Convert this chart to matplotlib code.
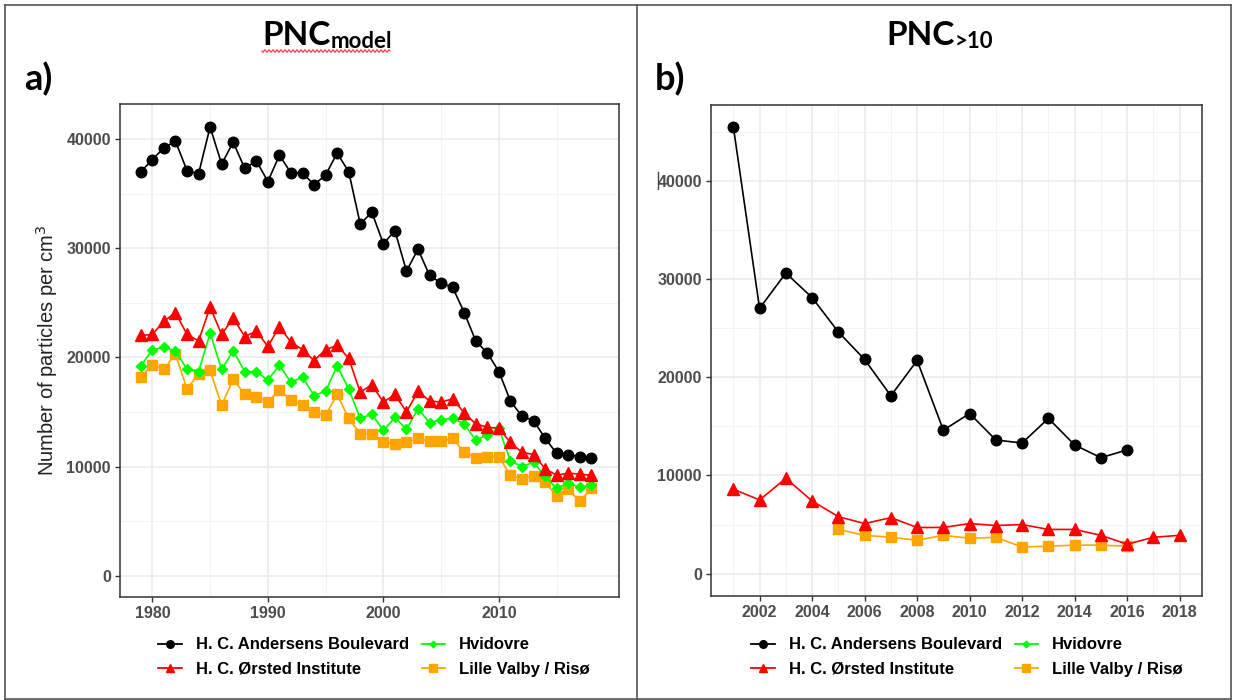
import numpy as np
import matplotlib
matplotlib.use("Agg")
import matplotlib.pyplot as plt
from matplotlib.lines import Line2D
from matplotlib.font_manager import FontProperties

# ---------------- data ----------------
years_a = list(range(1979, 2019))
hcab_a = [37000, 38100, 39200, 39800, 37100, 36800, 41100, 37700, 39700, 37300,
          38000, 36100, 38500, 36900, 36900, 35800, 36700, 38700, 37000, 32200,
          33300, 30400, 31600, 27900, 29900, 27500, 26800, 26400, 24100, 21500,
          20400, 18700, 16000, 14600, 14200, 12600, 11200, 11100, 10900, 10800]
hco_a = [22000, 22100, 23300, 24100, 22100, 21500, 24600, 22100, 23600, 21900,
         22400, 21000, 22800, 21400, 20700, 19700, 20700, 21100, 19900, 16800,
         17500, 15900, 16600, 15000, 16900, 16000, 15900, 16200, 14900, 13900,
         13600, 13500, 12200, 11300, 11100, 9800, 9200, 9400, 9300, 9200]
hvid_a = [19200, 20700, 20900, 20600, 18900, 18700, 22200, 18900, 20600, 18700,
          18700, 17900, 19300, 17700, 18200, 16500, 16900, 19200, 17100, 14400,
          14800, 13300, 14500, 13400, 15300, 14000, 14300, 14400, 13900, 12400,
          12900, 13500, 10500, 10000, 10400, 9100, 8000, 8500, 8100, 8300]
lvr_a = [18200, 19300, 18900, 20300, 17100, 18500, 18800, 15600, 18000, 16600,
         16400, 15900, 17000, 16100, 15600, 15000, 14700, 16600, 14400, 13000,
         13000, 12200, 12100, 12200, 12600, 12300, 12300, 12600, 11300, 10800,
         10900, 10900, 9200, 8900, 9100, 8600, 7300, 7900, 6800, 8000]

years_b_hcab = list(range(2001, 2017))
hcab_b = [45500, 27000, 30600, 28100, 24600, 21800, 18100, 21700, 14600, 16300,
          13600, 13300, 15800, 13100, 11800, 12600]
years_b_hco = list(range(2001, 2019))
hco_b = [8600, 7500, 9700, 7400, 5800, 5100, 5700, 4700, 4700, 5100, 4900, 5000,
         4500, 4500, 3900, 3000, 3700, 3900]
years_b_lvr = list(range(2005, 2017))
lvr_b = [4500, 3900, 3700, 3400, 3900, 3600, 3700, 2700, 2800, 2900, 2900, 2800]

labels = ["H. C. Andersens Boulevard", "H. C. Ørsted Institute",
          "Hvidovre", "Lille Valby / Risø"]
colors = ["black", "#FF0000", "#00FF00", "#FFA500"]
markers = ["o", "^", "D", "s"]
msizes = [7.6, 8.8, 4.6, 7.2]

xticks_a = [1980, 1990, 2000, 2010]
xticks_b = list(range(2002, 2019, 2))
yticks = [0, 10000, 20000, 30000, 40000]

# ---------------- figure ----------------
W, H = 1233, 700
fig = plt.figure(figsize=(W / 100, H / 100), dpi=100)
fig.patch.set_facecolor("white")


def fx(x):
    return np.asarray(x) / W


def fy(y):
    return 1 - np.asarray(y) / H


# table-like borders
for (x0, y0, x1, y1) in [(5, 5, 1231, 5), (5, 5, 5, 699), (1231, 5, 1231, 699),
                          (5, 699, 1231, 699), (637, 5, 637, 699)]:
    fig.add_artist(Line2D([fx(x0), fx(x1)], [fy(y0), fy(y1)], color="#555555",
                          lw=1.2, transform=fig.transFigure))

TICKFONT = FontProperties(family="Liberation Sans", weight="bold", size=11.5)
tickgray = "#4D4D4D"


def style_axes(ax):
    ax.set_facecolor("white")
    for s in ax.spines.values():
        s.set_color("#333333")
        s.set_linewidth(1.1)
    ax.grid(which="major", color="#EBEBEB", lw=1.2)
    ax.grid(which="minor", color="#F3F3F3", lw=0.7)
    ax.set_axisbelow(True)
    ax.tick_params(which="major", length=3.5, width=1, color="#333333",
                   labelcolor=tickgray, pad=3)
    ax.tick_params(which="minor", length=0)
    for lab in ax.get_xticklabels() + ax.get_yticklabels():
        lab.set_fontproperties(TICKFONT)


def draw_series(ax, xs, ys, idx):
    ax.plot(xs, ys, color=colors[idx], lw=1.2, marker=markers[idx],
            ms=msizes[idx], mec=colors[idx], mfc=colors[idx], label=labels[idx],
            zorder=3 + (4 - idx))


# ---- panel a ----
axa = fig.add_axes([fx(120), fy(597), (619 - 120) / W, (597 - 104) / H])
draw_series(axa, years_a, hcab_a, 0)
draw_series(axa, years_a, hco_a, 1)
draw_series(axa, years_a, hvid_a, 2)
draw_series(axa, years_a, lvr_a, 3)
axa.set_xlim(1977.2, 2020.4)
axa.set_ylim(-1950, 43200)
axa.set_xticks(xticks_a)
axa.set_xticks([1985, 1995, 2005, 2015], minor=True)
axa.set_yticks(yticks)
axa.set_yticks([5000, 15000, 25000, 35000], minor=True)
style_axes(axa)
axa.set_ylabel("Number of particles per cm$^3$", family="Liberation Sans",
               size=14.5, color="#222222", labelpad=5)

# ---- panel b ----
axb = fig.add_axes([fx(711), fy(596), (1202 - 711) / W, (596 - 105) / H])
draw_series(axb, years_b_hcab, hcab_b, 0)
draw_series(axb, years_b_hco, hco_b, 1)
draw_series(axb, years_b_lvr, lvr_b, 3)
axb.set_xlim(2000.15, 2018.85)
axb.set_ylim(-2275, 47700)
axb.set_xticks(xticks_b)
axb.set_xticks(list(range(2001, 2019, 2)), minor=True)
axb.set_yticks(yticks)
axb.set_yticks([5000, 15000, 25000, 35000, 45000], minor=True)
style_axes(axb)

# ---- legends ----
handles = [Line2D([], [], color=colors[i], lw=1.3, marker=markers[i],
                  ms=msizes[i] * 0.72, mfc=colors[i], mec=colors[i])
           for i in range(4)]
legfont = FontProperties(family="Liberation Sans", weight="bold", size=12)
for cx in (fx(374), fx(967)):
    fig.legend(handles, labels, loc="center", bbox_to_anchor=(cx, fy(657)),
               ncol=2, frameon=False, prop=legfont, handlelength=1.4,
               handletextpad=0.85, columnspacing=0.75, labelspacing=0.55,
               borderaxespad=0, borderpad=0)

# ---- titles and panel labels ----
tfont = dict(family="Lato", weight="bold", color="black")
fig.text(fx(331), fy(45), "PNC", ha="right", va="baseline", size=24, **tfont)
fig.text(fx(331), fy(48), "model", ha="left", va="baseline", size=16, **tfont)
fig.text(fx(955), fy(45), "PNC", ha="right", va="baseline", size=24, **tfont)
fig.text(fx(955), fy(48), ">10", ha="left", va="baseline", size=16, **tfont)
fig.text(fx(24), fy(90), "a)", ha="left", va="baseline", size=26, **tfont)
fig.text(fx(655), fy(90), "b)", ha="left", va="baseline", size=26, **tfont)

# spell-check wavy underline under the whole title word
wx = np.linspace(262, 390, 260)
wy = 51 + 1.2 * np.sin((wx - 262) / 4.0 * 2 * np.pi)
fig.add_artist(Line2D(fx(wx), fy(wy), color="#FF3030", lw=0.8,
                      transform=fig.transFigure))

# cursor artifact before 40000 in panel b
fig.add_artist(Line2D([fx(658), fx(658)], [fy(172), fy(189)], color="#444444",
                      lw=1.0, transform=fig.transFigure))

fig.savefig("out.png", dpi=100, facecolor="white")
